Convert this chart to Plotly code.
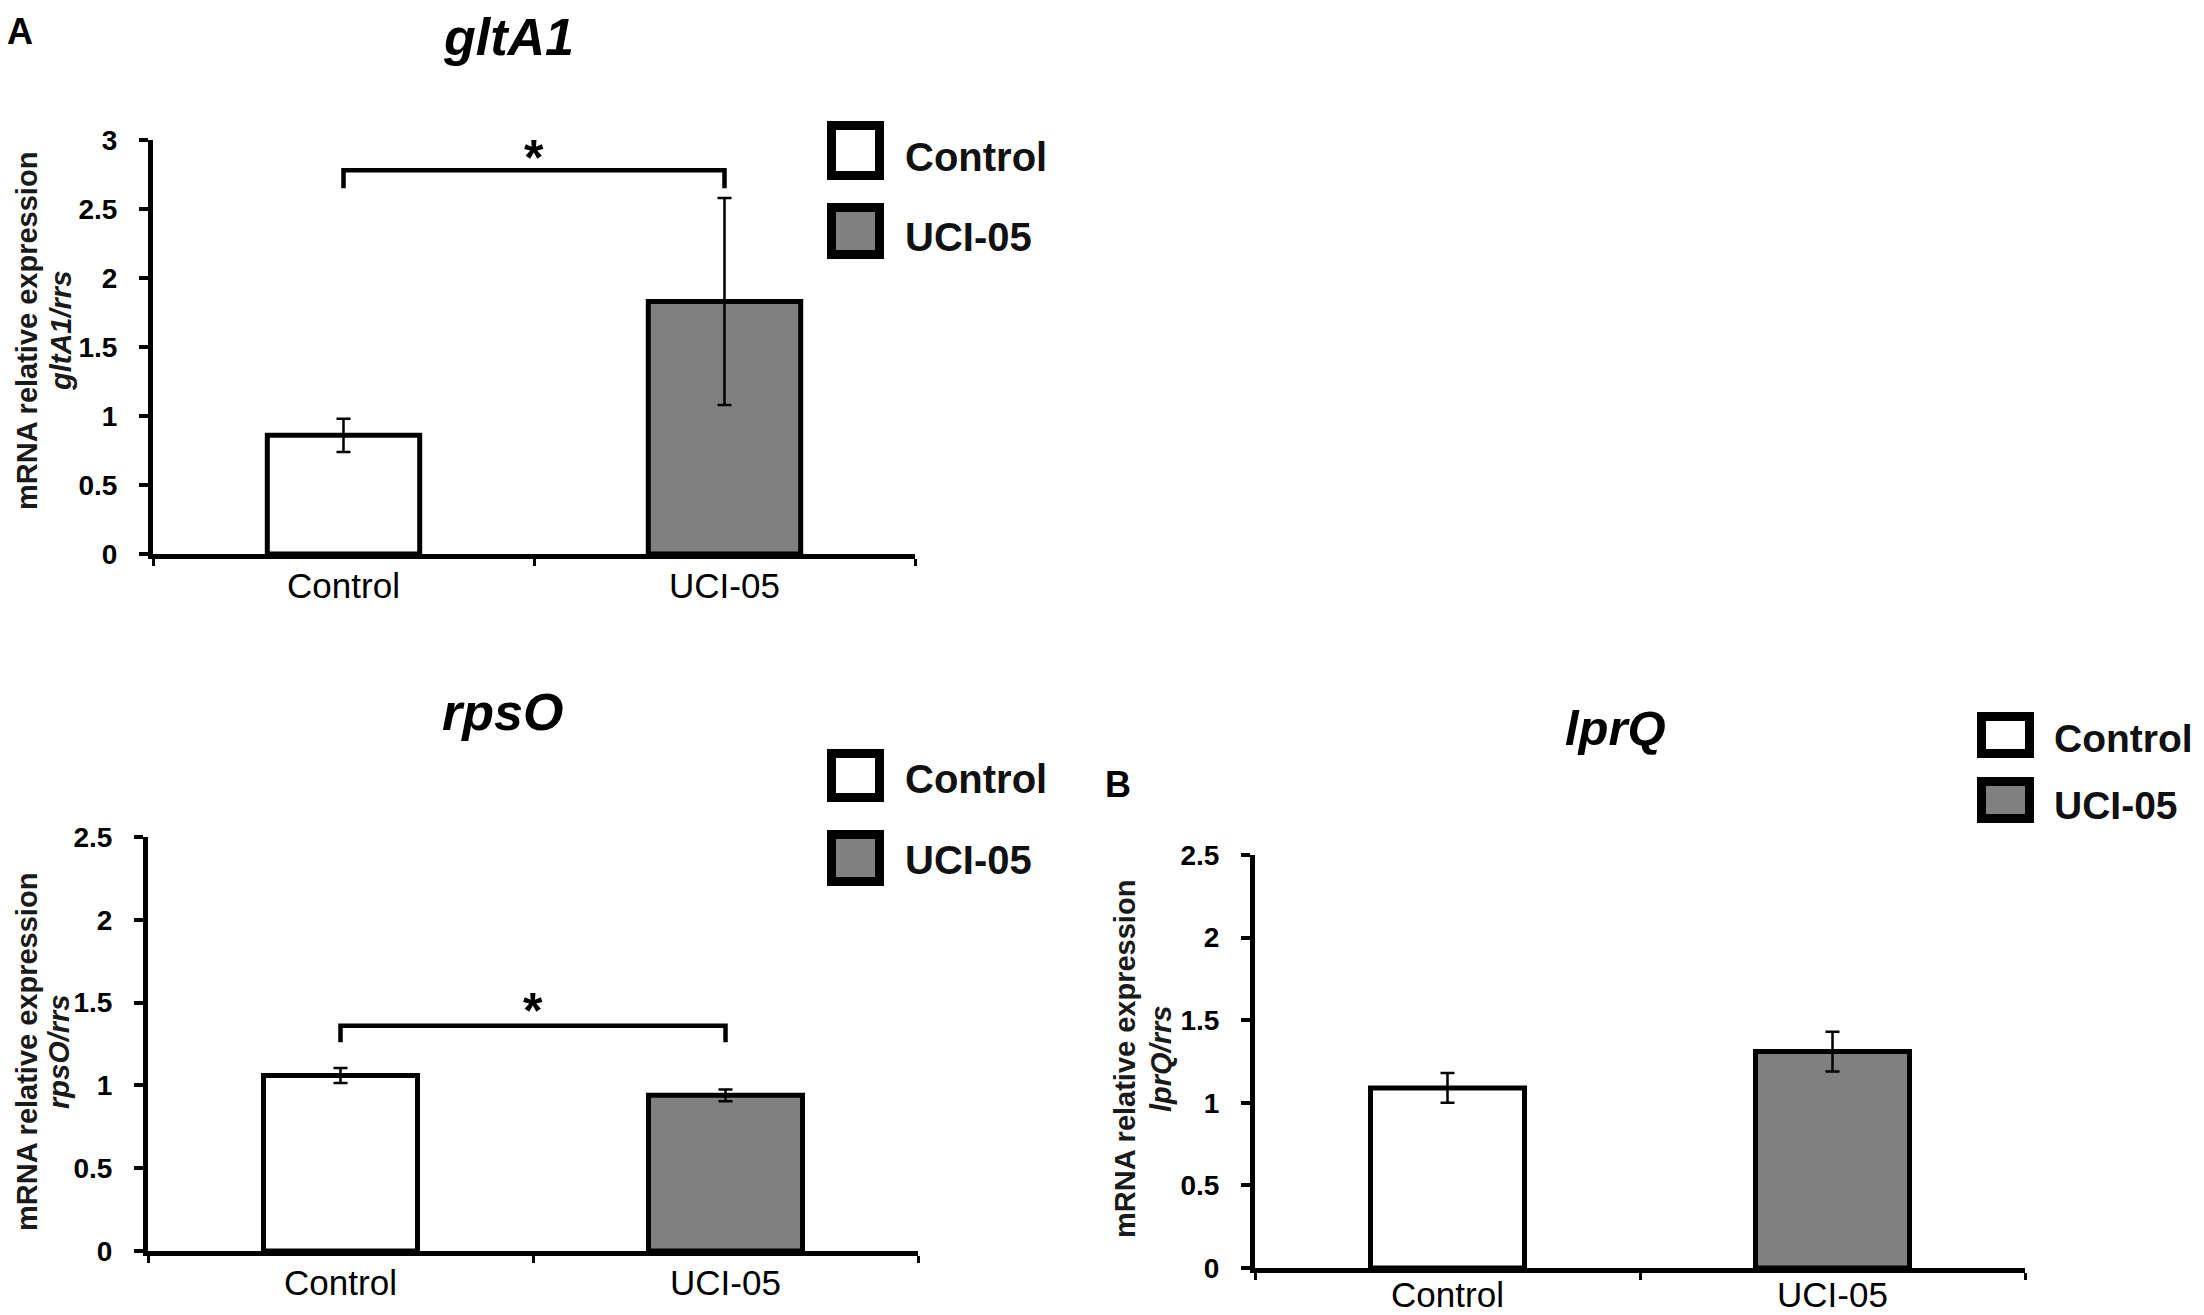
import plotly.graph_objects as go

# page is photographed at 2204x1315; the browser body has an 8px margin
PAGE_W, PAGE_H, OFF = 2204, 1315, 8
W, H = PAGE_W - OFF, PAGE_H - OFF

# ---------------- data ----------------
categories = ["Control", "UCI-05"]
bar_colors = ["white", "#808080"]

gltA1_mean = [0.86, 1.83]
gltA1_err = [0.12, 0.75]
rpsO_mean = [1.06, 0.94]
rpsO_err = [0.045, 0.035]
lprQ_mean = [1.09, 1.31]
lprQ_err = [0.09, 0.12]

gltA1_bracket = [2.65, 2.78]   # [leg bottom, bar top]
gltA1_star = 2.87
rpsO_bracket = [1.26, 1.36]
rpsO_star = 1.45

yticks_A = [0, 0.5, 1, 1.5, 2, 2.5, 3]
yticks_B = [0, 0.5, 1, 1.5, 2, 2.5]
ytick_text_A = ["0", "0.5", "1", "1.5", "2", "2.5", "3"]
ytick_text_B = ["0", "0.5", "1", "1.5", "2", "2.5"]

titles = ["gltA1", "rpsO", "lprQ"]
ylab2 = ["gltA1/rrs", "rpsO/rrs", "lprQ/rrs"]


def px(x):
    return (x - OFF) / W


def py(y):
    return 1 - (y - OFF) / H


SANS = "Liberation Sans, Arial, sans-serif"

fig = go.Figure()

panels = [
    dict(mean=gltA1_mean, err=gltA1_err, ax="", x0=153, x1=915, y0=554, y1=140,
         ymax=3, tv=yticks_A, tt=ytick_text_A, xstand=-3),
    dict(mean=rpsO_mean, err=rpsO_err, ax="2", x0=148, x1=918, y0=1251, y1=837,
         ymax=2.5, tv=yticks_B, tt=ytick_text_B, xstand=-3),
    dict(mean=lprQ_mean, err=lprQ_err, ax="3", x0=1255, x1=2025, y0=1268, y1=855,
         ymax=2.5, tv=yticks_B, tt=ytick_text_B, xstand=-8),
]

for p in panels:
    fig.add_trace(go.Bar(
        x=categories, y=p["mean"], width=0.4,
        marker=dict(color=bar_colors, line=dict(color="black", width=5)),
        error_y=dict(type="data", array=p["err"], visible=True,
                     color="black", thickness=2.5, width=7),
        xaxis="x" + p["ax"], yaxis="y" + p["ax"], showlegend=False,
        hoverinfo="skip",
    ))

# significance brackets
for br, ax in [(gltA1_bracket, ""), (rpsO_bracket, "2")]:
    fig.add_trace(go.Scatter(
        x=[categories[0], categories[0], categories[1], categories[1]],
        y=[br[0], br[1], br[1], br[0]],
        mode="lines", line=dict(color="black", width=4.5),
        xaxis="x" + ax, yaxis="y" + ax, showlegend=False, hoverinfo="skip",
        cliponaxis=False,
    ))

layout = dict(
    width=W, height=H, autosize=False, margin=dict(l=0, r=0, t=0, b=0, pad=0),
    paper_bgcolor="white", plot_bgcolor="white",
)

for p in panels:
    xa = dict(
        domain=[px(p["x0"]), px(p["x1"])], anchor="y" + p["ax"], type="category",
        range=[-0.5, 1.5], showline=True, linecolor="black", linewidth=5,
        ticks="outside", tickson="boundaries", ticklen=7, tickwidth=3,
        tickcolor="black", showgrid=False, zeroline=False, automargin=False,
        tickfont=dict(family=SANS, size=35, color="black"),
        ticklabelstandoff=p["xstand"],
    )
    ya = dict(
        domain=[py(p["y0"]), py(p["y1"])], anchor="x" + p["ax"],
        range=[0, p["ymax"]], showline=True, linecolor="black", linewidth=5,
        ticks="outside", ticklen=9, tickwidth=4, tickcolor="black",
        tickvals=p["tv"], ticktext=p["tt"], showgrid=False, zeroline=False,
        automargin=False,
        tickfont=dict(family=SANS, size=28, color="black", weight="bold"),
        ticklabelstandoff=16,
    )
    layout["xaxis" + p["ax"]] = xa
    layout["yaxis" + p["ax"]] = ya

fig.update_layout(**layout)

ann = []
# panel titles
for t, (x, y), fs in zip(titles, [(508, 37), (502, 712), (1615, 728)], [52, 52, 49]):
    ann.append(dict(text="<b><i>" + t + "</i></b>", x=px(x), y=py(y), xref="paper",
                    yref="paper", showarrow=False, xanchor="center", yanchor="middle",
                    font=dict(family=SANS, size=fs, color="black")))
# panel letters
for t, (x, y) in zip(["A", "B"], [(20, 31), (1118, 784)]):
    ann.append(dict(text="<b>" + t + "</b>", x=px(x), y=py(y), xref="paper",
                    yref="paper", showarrow=False, xanchor="center", yanchor="middle",
                    font=dict(family=SANS, size=36, color="black")))
# y-axis titles
for lab, (x1, x2, yc) in zip(ylab2, [(27, 61, 331), (27, 59, 1052), (1125, 1161, 1059)]):
    ann.append(dict(text="<b>mRNA relative expression</b>", x=px(x1), y=py(yc),
                    xref="paper", yref="paper", showarrow=False, textangle=-90,
                    xanchor="center", yanchor="middle", borderpad=0,
                    font=dict(family=SANS, size=29, color="#1a1a1a")))
    ann.append(dict(text="<b><i>" + lab + "</i></b>", x=px(x2), y=py(yc),
                    xref="paper", yref="paper", showarrow=False, textangle=-90,
                    xanchor="center", yanchor="middle", borderpad=0,
                    font=dict(family=SANS, size=29, color="#1a1a1a")))
# stars
for ys, ax in [(gltA1_star, "x"), (rpsO_star, "x2")]:
    ann.append(dict(text="<b>*</b>", x=0.5, y=ys, xref=ax, yref="y" + ax[1:],
                    showarrow=False, xanchor="center", yanchor="middle",
                    font=dict(family=SANS, size=50, color="black")))

# legends (boxes as shapes + text)
shapes = []
legends = [
    dict(bx=(827, 884), boxes=[(121, 180), (203, 259)], tx=904, ty=[157, 237], fs=40),
    dict(bx=(827, 884), boxes=[(749, 802), (830, 886)], tx=904, ty=[779, 860], fs=40),
    dict(bx=(1977, 2034), boxes=[(712, 758), (777, 823)], tx=2053, ty=[738, 805], fs=39),
]
for lg in legends:
    for (b0, b1), color, lab, ty in zip(lg["boxes"], bar_colors, categories, lg["ty"]):
        shapes.append(dict(type="rect", xref="paper", yref="paper",
                           x0=px(lg["bx"][0] + 4.5), x1=px(lg["bx"][1] - 4.5),
                           y0=py(b1 - 4.5), y1=py(b0 + 4.5),
                           fillcolor=color, line=dict(color="black", width=9)))
        ann.append(dict(text="<b>" + lab + "</b>", x=px(lg["tx"]), y=py(ty),
                        xref="paper", yref="paper", showarrow=False,
                        xanchor="left", yanchor="middle", borderpad=0,
                        font=dict(family=SANS, size=lg["fs"], color="#111111")))

fig.update_layout(annotations=ann, shapes=shapes)
fig.write_html("out.html")
